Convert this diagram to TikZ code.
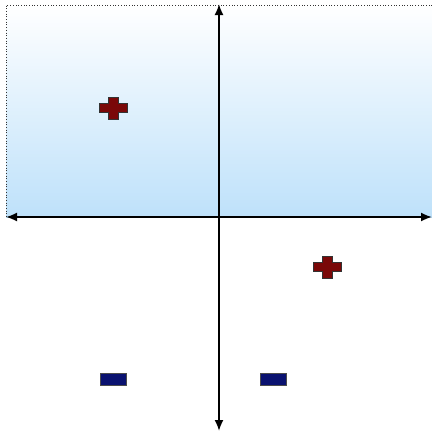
\documentclass[tikz,border=0pt]{standalone}
\usepackage{xcolor}
\usepackage{tikz}
\usetikzlibrary{arrows.meta}
\definecolor{skyblue}{RGB}{190,225,250}
\definecolor{paleblue}{RGB}{236,244,253}
\definecolor{plusred}{RGB}{122,8,8}
\definecolor{minusblue}{RGB}{10,18,112}
\newcommand{\plussign}[2]{%
  \filldraw[plusred,draw=black!80,line width=0.8pt]
    (#1-14,#2-4.5) -- (#1-5,#2-4.5) -- (#1-5,#2-11) -- (#1+5,#2-11) -- (#1+5,#2-4.5)
    -- (#1+14,#2-4.5) -- (#1+14,#2+4.5) -- (#1+5,#2+4.5) -- (#1+5,#2+11)
    -- (#1-5,#2+11) -- (#1-5,#2+4.5) -- (#1-14,#2+4.5) -- cycle;}
\newcommand{\minussign}[2]{%
  \filldraw[minusblue,draw=black!70,line width=0.6pt] (#1-13,#2-6) rectangle (#1+13,#2+6);}
\begin{document}
\begin{tikzpicture}[x=1pt,y=-1pt]
\useasboundingbox (0,0) rectangle (432,431);
\shade[top color=white,middle color=paleblue,bottom color=skyblue] (6,5) rectangle (432,217);
\draw[dotted,line width=0.7pt,black!80] (432,5) -- (6,5) -- (6,217);

\coordinate (west) at (6,217);
\coordinate (east) at (432,217);
\coordinate (north) at (219,4);
\coordinate (south) at (219,431);
\draw[line width=1.8pt,{Latex[length=11pt,width=9pt]}-{Latex[length=11pt,width=9pt]}] (west) -- (east);
\draw[line width=1.8pt,{Latex[length=11pt,width=9pt]}-{Latex[length=11pt,width=9pt]}] (north) -- (south);

\plussign{113}{108}
\plussign{327}{267}
\minussign{113}{379}
\minussign{273}{379}
\end{tikzpicture}
\end{document}
